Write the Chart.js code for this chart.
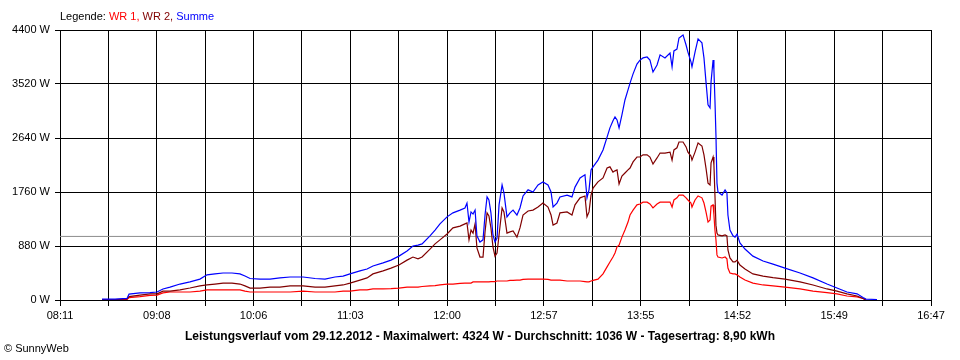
<!DOCTYPE html>
<html>
<head>
<meta charset="utf-8">
<script src="https://cdn.jsdelivr.net/npm/chart.js@4.4.1/dist/chart.umd.min.js"></script>
<style>
  html, body { margin: 0; padding: 0; background: #fff; }
  #wrap { position: relative; width: 960px; height: 360px; overflow: hidden; font-family: "Liberation Sans", Arial, sans-serif; }
  #c { position: absolute; left: 0; top: 0; }
  .txt { position: absolute; font-size: 11px; line-height: 13px; color: #000; white-space: nowrap; }
  #legend { left: 60px; top: 10px; }
  #title { left: 0; width: 960px; text-align: center; top: 329px; font-weight: bold; font-size: 12px; line-height: 14px; }
  #copy { left: 4px; top: 342px; }
</style>
</head>
<body>
<div id="wrap">
  <canvas id="c" width="960" height="360"></canvas>
  <div id="legend" class="txt">Legende: <span style="color:#ff0000">WR 1,</span> <span style="color:#800000">WR 2,</span> <span style="color:#0000ff">Summe</span></div>
  <div id="title" class="txt">Leistungsverlauf vom 29.12.2012 - Maximalwert: 4324 W - Durchschnitt: 1036 W - Tagesertrag: 8,90 kWh</div>
  <div id="copy" class="txt">© SunnyWeb</div>
</div>
<script>
// time of day in minutes since midnight
const times = [
  515.9,523.6,530.7,531.9,538.4,544.3,548.5,552.0,556.2,562.1,
  568.0,573.9,578.1,582.8,587.6,592.9,597.6,600.6,603.6,609.5,
  615.4,621.3,627.3,635.0,642.1,648.0,653.9,658.7,662.8,668.7,
  672.9,676.4,682.4,687.1,691.8,696.6,700.1,703.1,705.5,710.2,
  713.2,716.1,720.3,723.8,728.0,730.9,732.1,733.3,734.5,735.7,
  736.9,738.0,739.8,741.6,742.8,744.0,745.1,746.3,747.5,748.7,
  749.9,751.1,752.9,754.0,755.8,757.6,759.4,761.7,763.5,765.3,
  768.3,771.2,774.2,777.1,780.1,781.9,783.1,785.4,787.2,791.4,
  794.3,796.1,799.1,802.0,803.2,804.4,805.6,806.8,809.7,812.7,
  815.1,816.8,818.6,819.8,821.0,822.2,823.9,825.7,827.5,828.7,
  830.5,832.8,834.6,836.4,838.8,840.5,842.3,844.7,846.5,849.4,
  852.4,853.6,854.7,856.5,857.7,860.1,861.9,863.0,864.8,865.4,
  867.2,869.0,871.3,872.5,873.7,874.9,876.1,876.7,877.9,878.4,
  879.0,879.6,880.2,880.8,883.2,885.0,886.1,886.7,887.9,889.7,
  890.9,892.1,893.8,896.8,901.5,907.5,913.4,920.5,929.4,937.1,
  945.4,951.3,957.2,963.2,966.7,968.5,975.0
];
const summe = [
  15,15,25,95,115,120,130,180,210,260,
  295,340,410,425,440,440,425,390,350,340,
  340,360,375,375,350,340,375,390,425,475,
  505,555,605,650,715,800,880,895,915,1045,
  1140,1240,1355,1420,1465,1500,1580,1270,1435,1400,
  1465,1045,945,980,1385,1680,1630,1420,1060,945,
  1010,1550,1875,1745,1355,1420,1465,1385,1500,1695,
  1795,1760,1875,1925,1875,1760,1515,1580,1680,1710,
  1680,1840,1990,2040,1665,1795,2120,2170,2280,2445,
  2655,2805,2920,2985,2935,2805,3015,3260,3425,3535,
  3685,3845,3910,3945,3960,3910,3715,3830,3995,3945,
  4025,3800,4060,4090,4270,4320,4155,4040,3880,3800,
  4040,4255,4190,3945,3555,3180,3130,3555,3910,3750,
  3260,2690,1905,1760,1710,1795,1745,1385,1140,1045,
  1025,1075,930,830,715,635,585,520,440,360,
  260,195,130,100,40,15,8
];
const wr2 = [
  8,8,16,55,80,100,100,145,145,165,
  195,230,245,260,275,275,260,230,195,195,
  210,210,230,230,210,210,230,245,275,325,
  360,425,475,520,570,650,700,670,700,830,
  915,980,1075,1175,1205,1240,1255,980,1140,1090,
  1240,850,700,700,1110,1420,1370,1175,865,715,
  765,1060,1500,1435,1090,1110,1125,1025,1175,1385,
  1450,1465,1515,1580,1515,1385,1220,1255,1420,1435,
  1385,1550,1665,1695,1355,1435,1710,1825,1925,1990,
  2150,2170,2085,2105,2120,1890,2020,2070,2120,2150,
  2250,2330,2330,2365,2365,2330,2215,2315,2395,2395,
  2410,2280,2445,2480,2575,2575,2495,2410,2345,2280,
  2410,2560,2510,2365,2150,1905,1875,2235,2330,2200,
  1710,1220,1090,1060,1045,1060,1045,815,685,620,
  620,650,570,505,425,390,365,340,295,245,
  180,145,100,65,25,0,null
];
const wr1 = [
  7,7,8,40,55,75,80,115,130,130,
  130,145,165,165,165,165,165,145,130,130,
  130,130,130,145,130,130,130,145,145,165,
  165,180,180,185,195,210,210,210,220,230,
  235,245,260,260,270,275,275,275,275,295,
  295,295,295,295,295,295,295,300,300,300,
  310,310,310,310,310,320,320,325,325,335,
  340,340,340,340,335,325,325,325,325,310,
  310,310,310,300,295,295,310,320,340,425,
  540,620,700,765,865,895,1025,1140,1270,1385,
  1465,1550,1565,1595,1595,1565,1500,1565,1595,1595,
  1595,1515,1630,1665,1710,1710,1665,1630,1580,1515,
  1630,1695,1665,1580,1435,1270,1305,1530,1550,1385,
  1140,980,735,700,685,700,670,520,440,425,
  425,410,375,325,275,245,230,210,180,145,
  120,100,65,50,25,0,null
];
const xTickLabels = ["08:11","09:08","10:06","11:03","12:00","12:57","13:55","14:52","15:49","16:47"];
const yTickValues = [0, 880, 1760, 2640, 3520, 4400];
const average = 1036;
const xStart = 491;  // 08:11
const xEnd = 1007;   // 16:47

const xTickValues = [];
for (let i = 0; i < xTickLabels.length * 2 - 1; i++) {
  xTickValues.push(xStart + i * (xEnd - xStart) / ((xTickLabels.length - 1) * 2));
}

const pts = arr => times.map((t, i) => ({ x: t, y: arr[i] }));
const font = { family: '"Liberation Sans", Arial, sans-serif', size: 11 };

new Chart(document.getElementById('c'), {
  type: 'line',
  data: {
    datasets: [
      { label: 'Summe', data: pts(summe), borderColor: '#0000ff', borderWidth: 1.2, order: 0 },
      { label: 'WR 2', data: pts(wr2), borderColor: '#800000', borderWidth: 1.2, order: 1 },
      { label: 'WR 1', data: pts(wr1), borderColor: '#ff0000', borderWidth: 1.2, order: 2 },
      { label: 'Durchschnitt', data: [{ x: xStart, y: average }, { x: xEnd, y: average }], borderColor: '#8c8c8c', borderWidth: 1, order: 3 }
    ]
  },
  options: {
    responsive: false,
    animation: false,
    devicePixelRatio: 1,
    layout: { padding: { top: 30, right: 29, left: 0, bottom: 0 } },
    elements: { point: { radius: 0 }, line: { tension: 0, fill: false } },
    plugins: { legend: { display: false }, tooltip: { enabled: false }, title: { display: false } },
    scales: {
      x: {
        type: 'linear', min: xStart, max: xEnd,
        afterBuildTicks: s => { s.ticks = xTickValues.map(v => ({ value: v })); },
        afterFit: s => { s.height = 60; },
        ticks: {
          autoSkip: false, maxRotation: 0, minRotation: 0, padding: 3, color: '#000', font,
          callback: (v, i) => (i % 2 === 0 ? xTickLabels[i / 2] : '')
        },
        grid: { color: '#000', lineWidth: 1, tickLength: 6 },
        border: { color: '#000' }
      },
      y: {
        min: 0, max: 4400,
        afterBuildTicks: s => { s.ticks = yTickValues.map(v => ({ value: v })); },
        afterFit: s => { s.width = 60; },
        ticks: { padding: 5, color: '#000', font, callback: v => v + ' W' },
        grid: { color: '#000', lineWidth: 1, tickLength: 5 },
        border: { color: '#000' }
      }
    }
  }
});
</script>
</body>
</html>
